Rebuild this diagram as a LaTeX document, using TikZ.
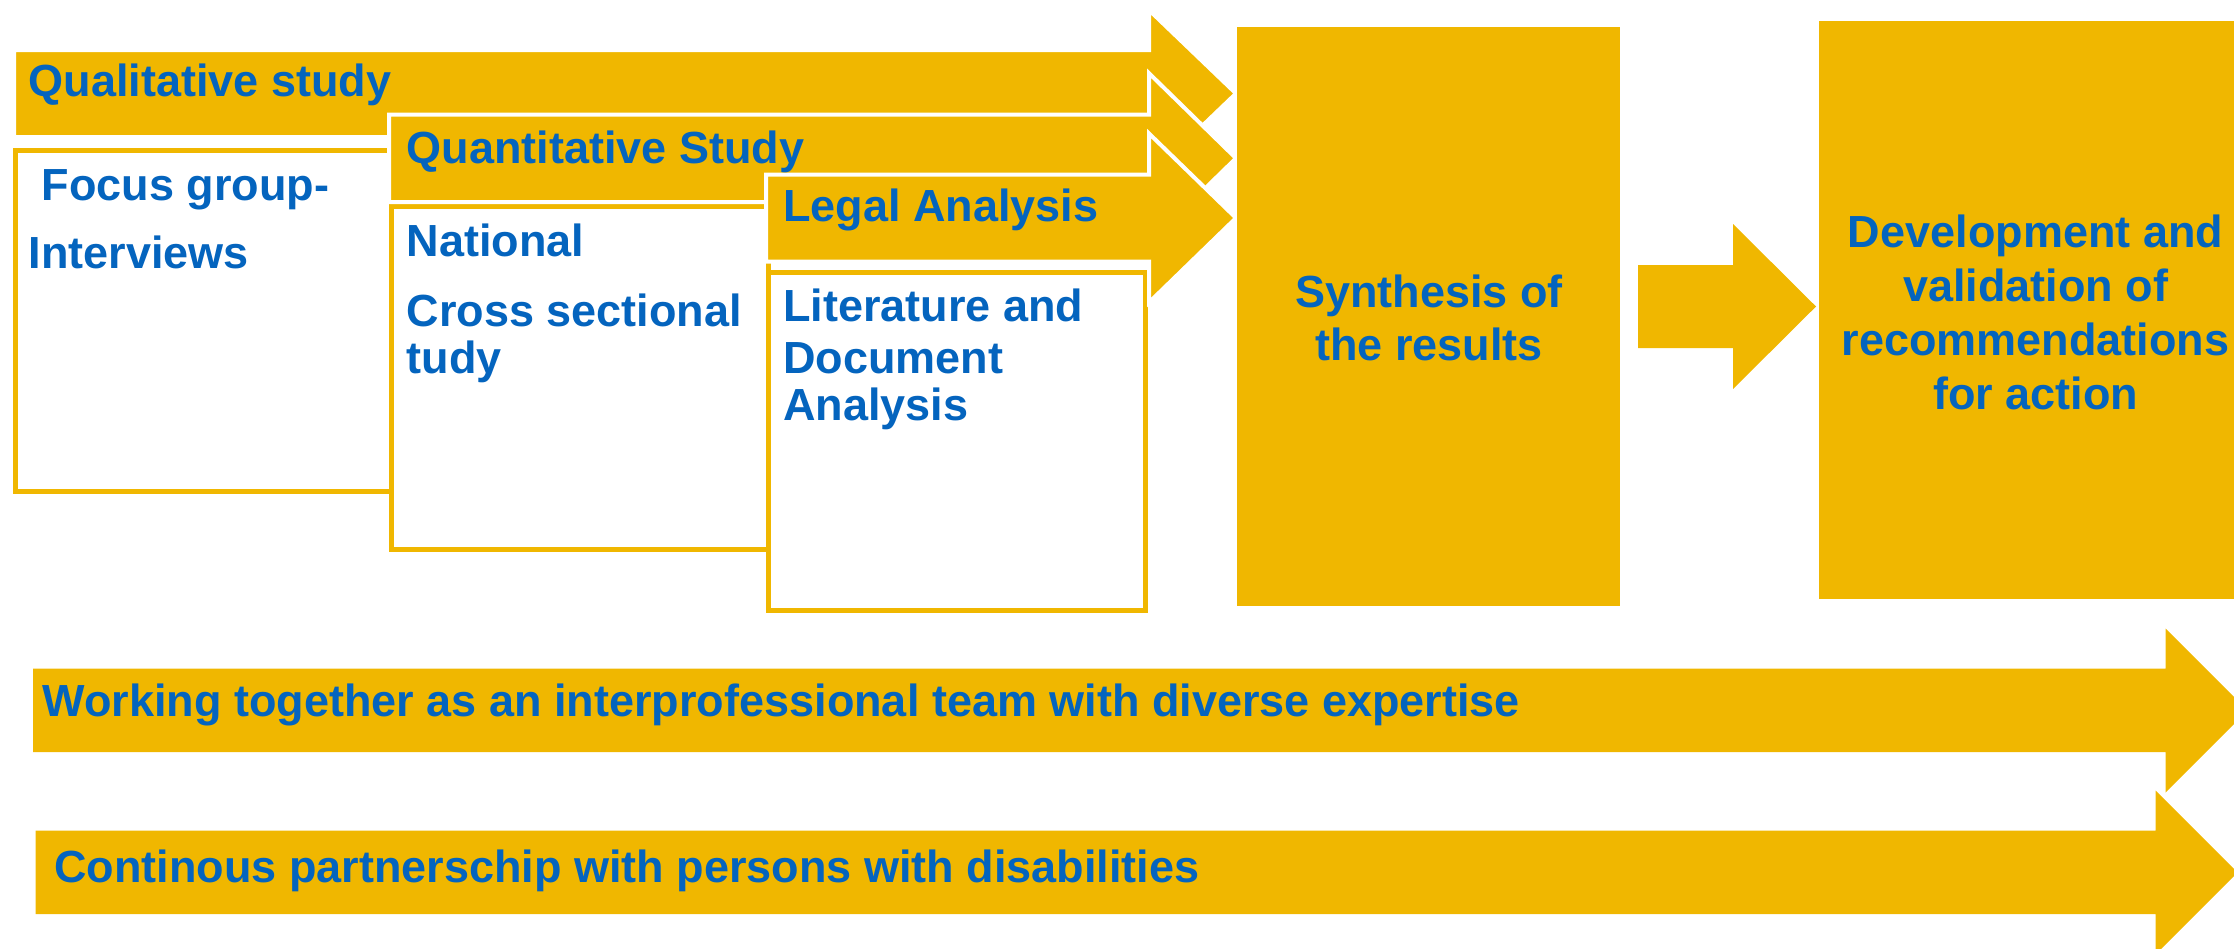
\documentclass[tikz,border=0pt]{standalone}
\usepackage{fontspec}
\setmainfont{Liberation Sans}
\definecolor{gold}{RGB}{240,183,0}
\definecolor{tblue}{RGB}{4,100,190}
\tikzset{
  barrow/.style={fill=gold, draw=white, line width=4pt, line join=miter},
  flatarrow/.style={fill=gold},
  whitebox/.style={fill=white, draw=gold, line width=5pt},
  goldbox/.style={fill=gold},
  lbl/.style={text=tblue, font=\fontsize{45}{54}\selectfont\bfseries, inner sep=0pt, anchor=base west},
  clbl/.style={lbl, anchor=base},
}
\begin{document}
\begin{tikzpicture}[x=1pt,y=-1pt]
\useasboundingbox (0,0) rectangle (2234,948);
\clip (0,0) rectangle (2234,948);

% white boxes
\draw[whitebox] (15,150) rectangle (391,491.5);
\draw[whitebox] (391,206.5) rectangle (768,549.5);
\draw[whitebox] (768,272.5) rectangle (1145,610.5);

% stacked block arrows
\draw[barrow] (14,50) -- (1149,50) -- (1149,10) -- (1236,93.5) -- (1149,177) -- (1149,137) -- (14,137) -- cycle;
\draw[barrow] (389,114.5) -- (1149,114.5) -- (1149,73.25) -- (1236,158.25) -- (1149,243.25) -- (1149,202) -- (389,202) -- cycle;
\draw[barrow] (766,174.5) -- (1149,174.5) -- (1149,133.5) -- (1236,218) -- (1149,302.5) -- (1149,261.5) -- (766,261.5) -- cycle;

% synthesis and development boxes
\node[goldbox, minimum width=383pt, minimum height=579pt, inner sep=0pt] (synth) at (1428.5,316.5) {};
\fill[gold] (1819,21) rectangle (2260,599);
\coordinate (dev) at (1819,310);

% middle arrow
\fill[gold] (1638,265) -- (1733,265) -- (1733,224) -- (1816,306.5) -- (1733,389) -- (1733,348) -- (1638,348) -- cycle;

% bottom arrows
\fill[gold] (33,668.5) -- (2165.5,668.5) -- (2165.5,628.5) -- (2247.5,710.5) -- (2165.5,792.5) -- (2165.5,752) -- (33,752) -- cycle;
\fill[gold] (35.5,830.5) -- (2155.5,830.5) -- (2155.5,790.5) -- (2237.5,872.5) -- (2155.5,954.5) -- (2155.5,914) -- (35.5,914) -- cycle;

% labels
\node[lbl] (qual) at (28.5,96) {Qualitative study};
\node[lbl] (quant) at (406.5,163) {Quantitative Study};
\node[lbl] (legal) at (783,221.5) {Legal Analysis};

\node[lbl] (fg1) at (41.5,200) {Focus group-};
\node[lbl] (fg2) at (28.5,268) {Interviews};

\node[lbl] (nat1) at (406.5,256.5) {National};
\node[lbl] (nat2) at (406.5,326) {Cross sectional};
\node[lbl] (nat3) at (406.5,373) {tudy};

\node[lbl] (lit1) at (783,321.5) {Literature and};
\node[lbl] (lit2) at (783,373) {Document};
\node[lbl] (lit3) at (783,420) {Analysis};

\node[clbl] (syn1) at (1429,307.5) {Synthesis of};
\node[clbl] (syn2) at (1429,360.5) {the results};

\node[clbl] (dev1) at (2035.5,247) {Development and};
\node[clbl] (dev2) at (2035.5,301) {validation of};
\node[clbl] (dev3) at (2035.5,355) {recommendations};
\node[clbl] (dev4) at (2035.5,409) {for action};

\node[lbl] (team) at (42.5,716.5) {Working together as an interprofessional team with diverse expertise};
\node[lbl] (part) at (54,882.5) {Continous partnerschip with persons with disabilities};
\end{tikzpicture}
\end{document}
